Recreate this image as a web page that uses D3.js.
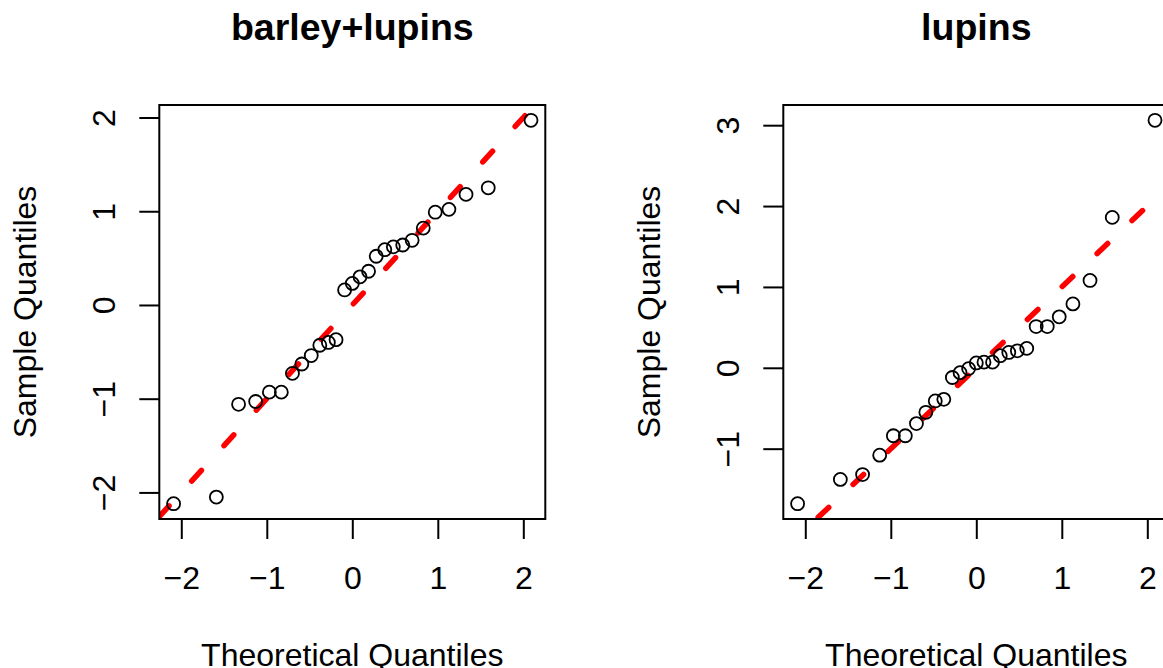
<!DOCTYPE html>
<html>
<head>
<meta charset="utf-8">
<script src="https://cdn.jsdelivr.net/npm/d3@7"></script>
<style>
  body { margin: 0; background: #fff; }
  text { font-family: "Liberation Sans", Arial, Helvetica, sans-serif; fill: #000; }
</style>
</head>
<body>
<svg id="chart"></svg>
<script>
// theoretical normal quantiles (27 points)
const theoreticalQ = [-2.09, -1.59, -1.33, -1.13, -0.97, -0.83, -0.70, -0.59, -0.48, -0.38,
  -0.28, -0.19, -0.09, 0, 0.09, 0.19, 0.28, 0.38, 0.48, 0.59, 0.70, 0.83, 0.97, 1.13, 1.33, 1.59, 2.09];

// sample quantiles per panel
const barleyLupins = [-2.12, -2.05, -1.06, -1.03, -0.93, -0.93, -0.73, -0.63, -0.54, -0.43,
  -0.40, -0.37, 0.16, 0.23, 0.30, 0.36, 0.52, 0.59, 0.62, 0.64, 0.69, 0.82, 0.99, 1.02, 1.18, 1.25, 1.97];
const lupins = [-1.68, -1.38, -1.32, -1.08, -0.84, -0.84, -0.69, -0.55, -0.41, -0.39,
  -0.12, -0.06, -0.01, 0.06, 0.07, 0.07, 0.15, 0.19, 0.21, 0.24, 0.51, 0.51, 0.63, 0.79, 1.08, 1.86, 3.06];

const titles = ["barley+lupins", "lupins"];
const xTicks = [-2, -1, 0, 1, 2];
const yTicks = [[-2, -1, 0, 1, 2], [-1, 0, 1, 2, 3]];

// reference line y = a + b*x
const lineIntercept = 0;
const lineSlope = 1;

const W = 1163, H = 668, panelW = 624;
const margin = {left: 159.3, right: 78.7, top: 105, bottom: 149};
const fontSize = 32;

const svg = d3.select("#chart").attr("width", W).attr("height", H);
svg.append("rect").attr("width", W).attr("height", H).attr("fill", "#fff");

// R style: extend the data range by 4% on each side
const pad = ([a, b]) => [a - 0.04 * (b - a), b + 0.04 * (b - a)];

[barleyLupins, lupins].forEach((sample, i) => {
  const g = svg.append("g").attr("transform", `translate(${i * panelW},0)`);
  const x = d3.scaleLinear().domain(pad(d3.extent(theoreticalQ)))
    .range([margin.left, panelW - margin.right]);
  const y = d3.scaleLinear().domain(pad(d3.extent(sample)))
    .range([H - margin.bottom, margin.top]);
  const [x0, x1] = x.range(), [yb, yt] = y.range();

  g.append("clipPath").attr("id", "clip" + i)
    .append("rect").attr("x", x0).attr("y", yt).attr("width", x1 - x0).attr("height", yb - yt);

  // dashed reference line across the plot region
  const [d0, d1] = x.domain();
  g.append("line")
    .attr("clip-path", `url(#clip${i})`)
    .attr("x1", x(d0)).attr("y1", y(lineIntercept + lineSlope * d0))
    .attr("x2", x(d1)).attr("y2", y(lineIntercept + lineSlope * d1))
    .attr("stroke", "#ff0000").attr("stroke-width", 5.5)
    .attr("stroke-linecap", "round")
    .attr("stroke-dasharray", "14.5 33.5");

  // points
  g.selectAll("circle.pt").data(sample).join("circle")
    .attr("class", "pt")
    .attr("cx", (d, k) => x(theoreticalQ[k]))
    .attr("cy", d => y(d))
    .attr("r", 6.5)
    .attr("fill", "none").attr("stroke", "#000").attr("stroke-width", 1.8);

  // box
  g.append("rect").attr("x", x0).attr("y", yt).attr("width", x1 - x0).attr("height", yb - yt)
    .attr("fill", "none").attr("stroke", "#000").attr("stroke-width", 2);

  // bottom axis
  const ax = g.append("g").attr("transform", `translate(0,${yb})`)
    .call(d3.axisBottom(x).tickValues(xTicks).tickSize(20).tickSizeOuter(0).tickFormat(d3.format("d")));
  ax.select(".domain").remove();
  ax.selectAll("line").attr("stroke", "#000").attr("stroke-width", 2);
  ax.selectAll("text").attr("y", 70).attr("dy", null)
    .style("font-size", fontSize + "px").attr("fill", "#000");

  // left axis
  const ay = g.append("g").attr("transform", `translate(${x0},0)`)
    .call(d3.axisLeft(y).tickValues(yTicks[i]).tickSize(20).tickSizeOuter(0).tickFormat(d3.format("d")));
  ay.select(".domain").remove();
  ay.selectAll("line").attr("stroke", "#000").attr("stroke-width", 2);
  ay.selectAll("text").attr("x", null).attr("y", null).attr("dy", null)
    .attr("transform", "translate(-44,0) rotate(-90)")
    .attr("text-anchor", "middle")
    .style("font-size", fontSize + "px").attr("fill", "#000");

  // titles
  const cx = (x0 + x1) / 2;
  g.append("text").attr("x", cx).attr("y", 40).attr("text-anchor", "middle")
    .style("font-size", "37.5px").style("font-weight", "bold").text(titles[i]);
  g.append("text").attr("x", cx).attr("y", 666).attr("text-anchor", "middle")
    .style("font-size", fontSize + "px").text("Theoretical Quantiles");
  g.append("text").attr("transform", `translate(36,${(yt + yb) / 2}) rotate(-90)`)
    .attr("text-anchor", "middle")
    .style("font-size", fontSize + "px").text("Sample Quantiles");
});
</script>
</body>
</html>
